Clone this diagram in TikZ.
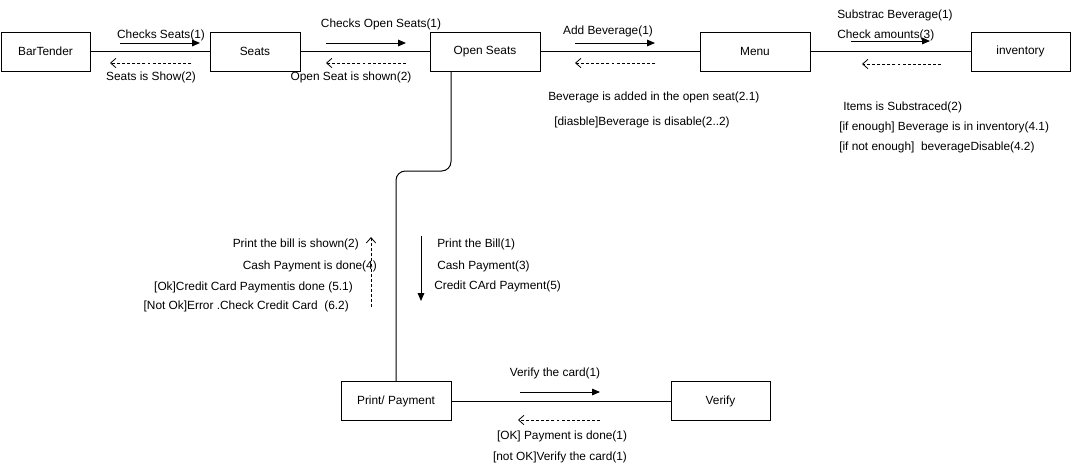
\documentclass[tikz,border=0pt]{standalone}
\usepackage{fontspec}
\setmainfont{Liberation Sans}
\usetikzlibrary{arrows.meta}

\begin{document}
\begin{tikzpicture}[x=0.75pt,y=-0.75pt]

% definitions
\tikzstyle{object} = [rectangle, minimum width=82.5pt, minimum height=29.5pt, text centered, draw=black, fill=white, inner sep=0pt, font=\fontsize{8.9}{10}\selectfont]

\tikzstyle{msg} = [inner sep=0pt, yshift=-1pt, font=\fontsize{8.9}{10}\selectfont]

\tikzstyle{link} = [draw=black, line width=0.75pt]

\tikzstyle{call} = [-{Triangle[length=6pt,width=5pt]}, line width=0.75pt]

\tikzstyle{reply} = [-{Straight Barb[length=4pt,width=7pt]}, line width=0.6pt, dash pattern=on 2.2pt off 1.6pt]

\useasboundingbox (0,0) rectangle (1071,472);

% the objects
\node (bartender) [object, minimum width=67pt] at (45.5,51.5) {BarTender};
\node (seats) [object, minimum width=67.5pt] at (255,51.5) {Seats};
\node (openseats) [object] at (485,51.5) {Open Seats};
\node (menu) [object] at (755,51.5) {Menu};
\node (inventory) [object, minimum width=74pt] at (1020.5,51.5) {inventory};
\node (printpay) [object] at (396,401) {Print/ Payment};
\node (verify) [object, minimum width=74pt] at (720.5,401) {Verify};

% the links
\draw [link] (bartender) -- (seats);
\draw [link] (seats) -- (openseats);
\draw [link] (openseats) -- (menu);
\draw [link] (menu) -- (inventory);
\draw [link] (printpay) -- (verify);
\coordinate (bend) at (451,171);
\draw [link, rounded corners=7pt] (openseats.south -| bend) -- (bend) -| (printpay.north);

% bartender - seats
\node (m1) [msg] at (161,34) {Checks Seats(1)};
\coordinate (c1a) at (120,43); \coordinate (c1b) at (200,43);
\draw [call] (c1a) -- (c1b);
\coordinate (r1a) at (191,63); \coordinate (r1b) at (110,63);
\draw [reply] (r1a) -- (r1b);
\node (m2) [msg] at (151,76) {Seats is Show(2)};

% seats - open seats
\node (m3) [msg] at (381,23) {Checks Open Seats(1)};
\coordinate (c2a) at (326,43); \coordinate (c2b) at (406,43);
\draw [call] (c2a) -- (c2b);
\coordinate (r2a) at (406,63); \coordinate (r2b) at (326,63);
\draw [reply] (r2a) -- (r2b);
\node (m4) [msg] at (351,76) {Open Seat is shown(2)};

% open seats - menu
\node (m5) [msg] at (608,30) {Add Beverage(1)};
\coordinate (c3a) at (575,43); \coordinate (c3b) at (655,43);
\draw [call] (c3a) -- (c3b);
\coordinate (r3a) at (655,63); \coordinate (r3b) at (575,63);
\draw [reply] (r3a) -- (r3b);
\node (m6) [msg, anchor=west] at (548,96) {Beverage is added in the open seat(2.1)};
\node (m7) [msg, anchor=west] at (554,121) {[diasble]Beverage is disable(2..2)};

% menu - inventory
\node (m8) [msg, anchor=west] at (837,14) {Substrac Beverage(1)};
\node (m9) [msg, anchor=west] at (837,34) {Check amounts(3)};
\coordinate (c4a) at (851,41); \coordinate (c4b) at (930,41);
\draw [call] (c4a) -- (c4b);
\coordinate (r4a) at (941,64); \coordinate (r4b) at (862,64);
\draw [reply] (r4a) -- (r4b);
\node (m10) [msg, anchor=west] at (843,106) {Items is Substraced(2)};
\node (m11) [msg, anchor=west] at (839,126) {[if enough] Beverage is in inventory(4.1)};
\node (m12) [msg, anchor=west] at (839,146) {[if not enough]\ \ beverageDisable(4.2)};

% open seats - print/payment
\node (m13) [msg, anchor=east] at (359,243) {Print the bill is shown(2)};
\node (m14) [msg, anchor=east] at (377,265) {Cash Payment is done(4)};
\node (m15) [msg, anchor=east] at (353,286) {[Ok]Credit Card Paymentis done (5.1)};
\node (m16) [msg, anchor=east] at (349,305) {[Not Ok]Error .Check Credit Card\ \ (6.2)};
\coordinate (r5a) at (371,307); \coordinate (r5b) at (371,237);
\draw [reply] (r5a) -- (r5b);
\coordinate (c5a) at (421,236); \coordinate (c5b) at (421,301);
\draw [call] (c5a) -- (c5b);
\node (m17) [msg, anchor=west] at (437,243) {Print the Bill(1)};
\node (m18) [msg, anchor=west] at (437,265) {Cash Payment(3)};
\node (m19) [msg, anchor=west] at (434,285) {Credit CArd Payment(5)};

% print/payment - verify
\node (m20) [msg] at (555,372) {Verify the card(1)};
\coordinate (c6a) at (520,392); \coordinate (c6b) at (600,392);
\draw [call] (c6a) -- (c6b);
\coordinate (r6a) at (600,420); \coordinate (r6b) at (518,420);
\draw [reply] (r6a) -- (r6b);
\node (m21) [msg] at (562,435) {[OK] Payment is done(1)};
\node (m22) [msg] at (560,456) {[not OK]Verify the card(1)};

\end{tikzpicture}
\end{document}
